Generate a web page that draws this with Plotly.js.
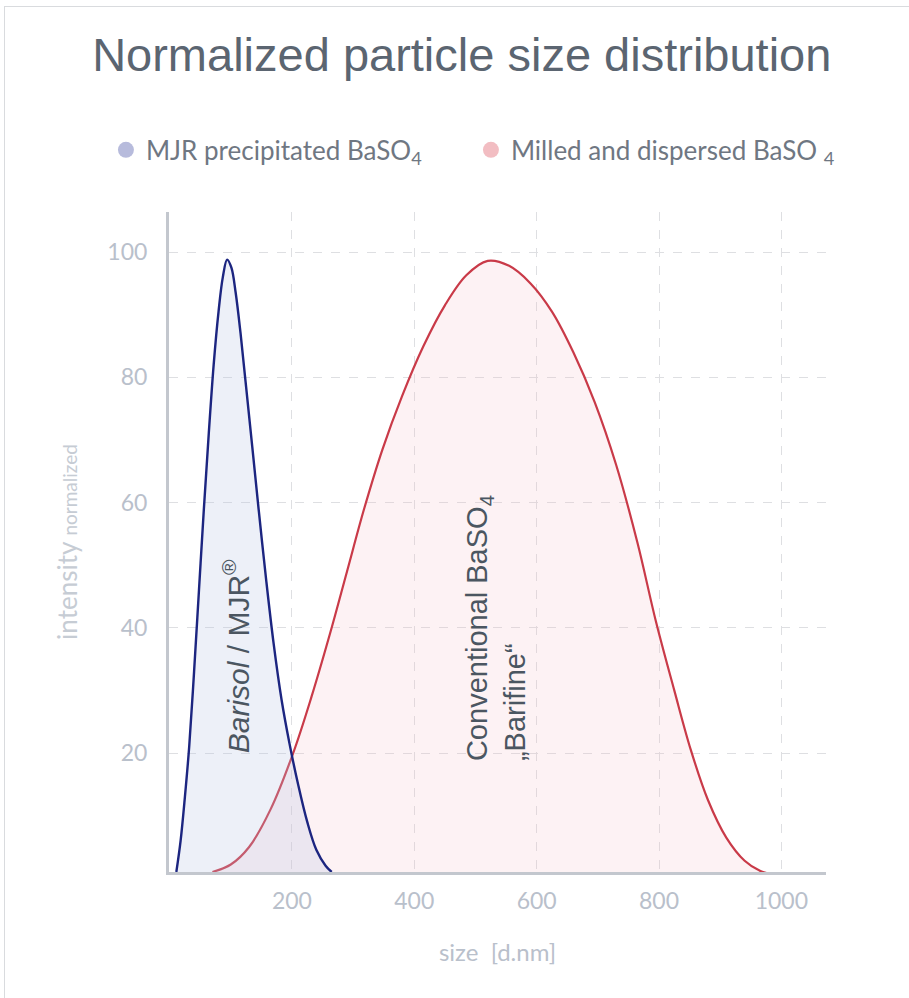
<!DOCTYPE html>
<html>
<head>
<meta charset="utf-8">
<script src="https://cdn.plot.ly/plotly-3.0.1.min.js"></script>
<style>
  html, body { margin: 0; padding: 0; background: #ffffff; }
  #frame { position: absolute; left: 4px; top: 6px; width: 920px; height: 1000px;
           border-top: 1px solid #d9dbde; border-left: 1px solid #d9dbde; pointer-events: none; }
  #chart { width: 909px; height: 998px; }
</style>
</head>
<body>
<div id="chart"></div>
<div id="frame"></div>
<script>
// ---- data ----
const mjrSize  = [11, 18, 25, 32, 40, 48, 56, 64, 72, 80, 87, 94, 101, 108, 116, 125, 135, 146, 158, 170, 183, 196, 210, 225, 240, 255, 265];
const mjrValue = [1, 6, 13, 21, 33, 46, 59, 71, 82, 90.5, 96, 98.8, 97.5, 93.5, 87, 78.5, 69, 58.5, 47.5, 37.5, 28.5, 21.5, 15, 9, 4.5, 2, 1];

const milledSize  = [70, 100, 130, 165, 202, 232, 262, 290, 318, 348, 380, 415, 450, 485, 520, 555, 590, 625, 660, 695, 730, 765, 795, 825, 852, 880, 910, 940, 965, 990];
const milledValue = [1, 2.2, 5, 11, 20, 29, 39, 49, 59, 68.5, 77, 85, 91.5, 96.3, 98.6, 97.8, 95, 90.5, 84, 76, 66, 53.5, 41, 30, 20.5, 12.5, 6.5, 2.8, 1.2, 0.5];

const legendNames = ['MJR precipitated BaSO<sub>4</sub>', 'Milled and dispersed BaSO <sub>4</sub>'];
const xTicks = [200, 400, 600, 800, 1000];
const yTicks = [20, 40, 60, 80, 100];

const sansFont = 'Lato, "Noto Sans", sans-serif';
const tickFont = {family: sansFont, size: 23, color: '#b9c0cb'};

const traces = [
  {x: milledSize, y: milledValue, type: 'scatter', mode: 'lines', line: {color: '#c93a48', width: 2.2, shape: 'spline', smoothing: 1},
   fill: 'tozeroy', fillcolor: 'rgba(245,190,198,0.2)', showlegend: false, hoverinfo: 'skip'},
  {x: mjrSize, y: mjrValue, type: 'scatter', mode: 'lines', line: {color: '#1c2580', width: 2.4, shape: 'spline', smoothing: 1},
   fill: 'tozeroy', fillcolor: 'rgba(185,195,228,0.25)', showlegend: false, hoverinfo: 'skip'},
  {x: [null], y: [null], type: 'scatter', mode: 'markers', name: legendNames[0],
   marker: {color: '#b7bbdc', size: 16}},
  {x: [null], y: [null], type: 'scatter', mode: 'markers', name: legendNames[1],
   marker: {color: '#f2bdc2', size: 16}}
];

const layout = {
  width: 909, height: 998,
  margin: {l: 169, r: 83, t: 212, b: 126},
  paper_bgcolor: '#ffffff', plot_bgcolor: '#ffffff',
  title: {text: 'Normalized particle size distribution', x: 0.508, xanchor: 'center', y: 0.945, yanchor: 'middle',
          font: {family: '"Liberation Sans", Arial, sans-serif', size: 47, color: '#5b6571'}},
  showlegend: true,
  legend: {orientation: 'h', x: -0.096, xanchor: 'left', y: 1.094, yanchor: 'middle',
           font: {family: sansFont, size: 26, color: '#6f7782'},
           tracegroupgap: 0, entrywidthmode: 'pixels', entrywidth: 320},
  xaxis: {range: [-1, 1073], tickvals: xTicks, ticktext: xTicks.map(String), tickfont: tickFont,
          showgrid: true, gridcolor: '#dedfe2', griddash: 'dash', gridwidth: 1,
          showline: true, linecolor: '#c3c7ce', linewidth: 3, zeroline: false,
          ticks: '', ticklabelstandoff: 6,
          title: {text: 'size  [d.nm]', standoff: 32, font: {family: sansFont, size: 24, color: '#b9c0cb'}}},
  yaxis: {range: [1, 106.4], tickvals: yTicks, ticktext: yTicks.map(String), tickfont: tickFont,
          showgrid: true, gridcolor: '#dedfe2', griddash: 'dash', gridwidth: 1,
          showline: true, linecolor: '#c3c7ce', linewidth: 3, zeroline: false,
          ticks: '', ticklabelstandoff: 14,
          title: {text: 'intensity <span style="font-size:19px">normalized</span>', standoff: 23,
                  font: {family: sansFont, size: 26, color: '#c6ccd4'}}},
  annotations: [
    {x: 109, y: 35.5, xref: 'x', yref: 'y', text: '<i>Barisol</i> / MJR<sup>®</sup>', textangle: -90, showarrow: false,
     font: {family: '"Liberation Sans", Arial, sans-serif', size: 30, color: '#4b5661'}},
    {x: 534, y: 40, xref: 'x', yref: 'y', text: 'Conventional BaSO<sub>4</sub><br>„Barifine“', textangle: -90, showarrow: false,
     align: 'left', font: {family: '"Liberation Sans", Arial, sans-serif', size: 29, color: '#4b5661'}}
  ]
};

Plotly.newPlot('chart', traces, layout, {displayModeBar: false, staticPlot: true});
</script>
</body>
</html>
